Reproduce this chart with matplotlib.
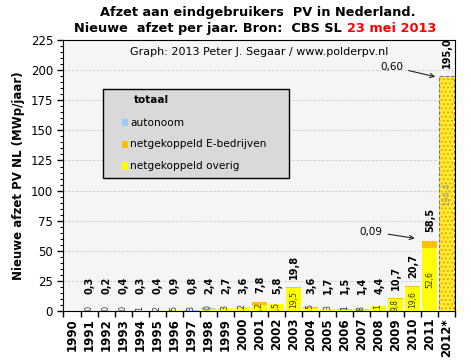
import numpy as np
import matplotlib.pyplot as plt
from matplotlib.patches import Rectangle

years = ["1990", "1991", "1992", "1993", "1994", "1995", "1996", "1997", "1998",
         "1999", "2000", "2001", "2002", "2003", "2004", "2005", "2006", "2007",
         "2008", "2009", "2010", "2011", "2012*"]
totaal = [0.0, 0.3, 0.2, 0.4, 0.3, 0.4, 0.9, 0.8, 2.4, 2.7, 3.6, 7.8, 5.8, 19.8,
          3.6, 1.7, 1.5, 1.4, 4.4, 10.7, 20.7, 58.5, 195.0]
overig = [0.0, 0.0, 0.0, 0.0, 0.1, 0.2, 0.5, 0.3, 2.0, 2.3, 3.2, 5.2, 5.5, 19.5,
          2.5, 1.3, 1.1, 0.8, 4.1, 9.8, 19.6, 52.6, 194.4]
ebedrijven = [0.0, 0.0, 0.0, 0.0, 0.0, 0.0, 0.0, 0.0, 0.0, 0.0, 0.0, 2.0, 0.0, 0.0,
              0.6, 0.0, 0.0, 0.0, 0.0, 0.6, 0.8, 5.8, 0.0]
autonoom = [0.0, 0.3, 0.2, 0.4, 0.2, 0.2, 0.4, 0.5, 0.4, 0.4, 0.4, 0.6, 0.3, 0.3,
            0.5, 0.4, 0.4, 0.6, 0.3, 0.3, 0.3, 0.1, 0.6]

c_yel = "#ffff00"
c_org = "#ffc000"
c_blu = "#99ccff"

def fmt(v):
    return f"{v:.1f}".replace(".", ",")

fig = plt.figure(figsize=(4.71, 3.61), dpi=100)
ax = fig.add_axes([0.1348, 0.1385, 0.8312, 0.7505])
ax.set_facecolor("#f5f5f5")

x = np.arange(len(years))
w = 0.9
ov = np.array(overig)
eb = np.array(ebedrijven)
au = np.array(autonoom)

# laatste staaf (2012*) apart tekenen
n = len(years) - 1
ax.bar(x[:n], ov[:n], w, color=c_yel, zorder=3)
ax.bar(x[:n], eb[:n], w, bottom=ov[:n], color=c_org, zorder=3)
ax.bar(x[:n], au[:n], w, bottom=ov[:n] + eb[:n], color=c_blu, zorder=3)

ax.bar(x[n], ov[n], w, color="#ffee33", edgecolor="#ffa500", hatch="....",
       linewidth=0, zorder=3)
ax.bar(x[n], au[n], w, bottom=ov[n], color=c_blu, zorder=3)
ax.bar(x[n], ov[n] + au[n], w, fill=False, edgecolor="#777777",
       linestyle=(0, (3, 2)), linewidth=0.8, zorder=4)

for i in range(len(years)):
    if totaal[i] > 0:
        ax.text(x[i] + 0.05, max(totaal[i] + 7, 14), fmt(totaal[i]), rotation=90,
                ha="center", va="bottom", fontsize=7, fontweight="bold", zorder=5)
    if i > 0:
        t = ax.text(x[i], ov[i] / 2, fmt(ov[i]), rotation=90, ha="center",
                    va="center", fontsize=5.5 if i < n else 6,
                    color="#333333" if i < n else "#999999", zorder=5)
        t.set_clip_path(ax.patch)
        t.set_clip_on(True)

ax.annotate("0,60", xy=(21.5, 194), xytext=(18.1, 203),
            fontsize=7.5, va="center", ha="left",
            arrowprops=dict(arrowstyle="->", color="#222222", lw=0.8))
ax.annotate("0,09", xy=(20.3, 60), xytext=(16.9, 66),
            fontsize=7.5, va="center", ha="left",
            arrowprops=dict(arrowstyle="->", color="#222222", lw=0.8))

ax.set_xlim(-0.5, len(years) - 0.5)
ax.set_ylim(0, 225)
ax.set_yticks(np.arange(0, 226, 25))
ax.set_yticks(np.arange(0, 226, 5), minor=True)
ax.yaxis.grid(True, color="#cccccc", linestyle=(0, (3, 2)), linewidth=0.6)
ax.set_axisbelow(True)
ax.tick_params(axis="y", labelsize=8.5, length=4, width=1)
ax.tick_params(axis="y", which="minor", length=2, width=0.8)

ax.set_xticks(x)
ax.set_xticklabels(years, rotation=90, fontsize=8.5, fontweight="bold")
ax.set_xticks(np.arange(-0.5, len(years), 1), minor=True)
ax.tick_params(axis="x", which="major", length=0, pad=5)
ax.tick_params(axis="x", which="minor", length=4, width=1)

ax.set_ylabel("Nieuwe afzet PV NL (MWp/jaar)", fontsize=8.5, fontweight="bold",
              labelpad=4)

ax.text(0.5, 0.975, "Graph: 2013 Peter J. Segaar / www.polderpv.nl",
        transform=ax.transAxes, ha="center", va="top", fontsize=8)

# legenda
lx, ly = 0.1, 0.49
ax.add_patch(Rectangle((lx, ly), 0.475, 0.33, transform=ax.transAxes,
                       facecolor="#d9d9d9", edgecolor="black", linewidth=1, zorder=6))
ax.text(lx + 0.08, ly + 0.29, "totaal", transform=ax.transAxes, fontsize=7.5,
        fontweight="bold", va="center", zorder=7)
for k, (lab, col) in enumerate([("autonoom", c_blu),
                                 ("netgekoppeld E-bedrijven", c_org),
                                 ("netgekoppeld overig", c_yel)]):
    yy = ly + 0.205 - k * 0.08
    ax.add_patch(Rectangle((lx + 0.05, yy - 0.014), 0.015, 0.028,
                           transform=ax.transAxes, facecolor=col, zorder=7))
    ax.text(lx + 0.07, yy, lab, transform=ax.transAxes, fontsize=7.6,
            va="center", zorder=7)

fig.text(258 / 471, 0.965, "Afzet aan eindgebruikers  PV in Nederland.",
         ha="center", va="center", fontsize=9.3, fontweight="bold")
fig.text(342 / 471, 0.92, "Nieuwe  afzet per jaar. Bron:  CBS SL", ha="right",
         va="center", fontsize=9.3, fontweight="bold")
fig.text(347 / 471, 0.92, "23 mei 2013", ha="left", va="center", fontsize=9.3,
         fontweight="bold", color="red")

fig.savefig("out.png", dpi=100)
